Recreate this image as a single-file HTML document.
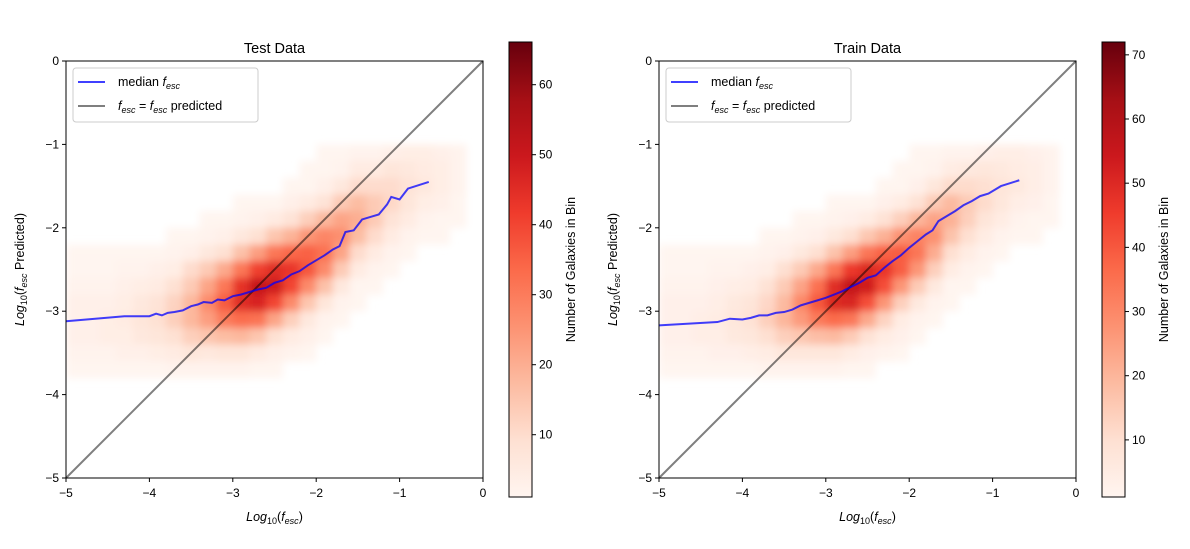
<!DOCTYPE html>
<html><head><meta charset="utf-8"><style>
body{margin:0;background:#fff;}
svg{display:block;font-family:"Liberation Sans","DejaVu Sans",sans-serif;}
</style></head><body>
<svg id="fig" width="1190" height="549" viewBox="0 0 1190 549" xmlns="http://www.w3.org/2000/svg">
<defs>
<linearGradient id="reds" x1="0" y1="1" x2="0" y2="0">
<stop offset="0" stop-color="#fff5f0"/><stop offset="0.125" stop-color="#fee0d2"/><stop offset="0.25" stop-color="#fcbba1"/><stop offset="0.375" stop-color="#fc9272"/><stop offset="0.5" stop-color="#fb6a4a"/><stop offset="0.625" stop-color="#ef3b2c"/><stop offset="0.75" stop-color="#cb181d"/><stop offset="0.875" stop-color="#a50f15"/><stop offset="1" stop-color="#67000d"/>
</linearGradient>
<filter id="soft" x="-5%" y="-5%" width="110%" height="110%"><feGaussianBlur stdDeviation="4"/></filter>
<clipPath id="clipL"><rect x="66" y="61" width="417" height="417"/></clipPath>
<clipPath id="clipR"><rect x="659" y="61" width="417" height="417"/></clipPath>
</defs>
</svg>
<script>
// bins: x edges -5..-0.2 step 0.2 (24 cols); y rows centers -1.1 (top) .. -3.7 (bottom)
const xBinStart = -5.0, binW = 0.2, yBinTop = -1.0;
const testCounts = [
[0,0,0,0,0,0,0,0,0,0,0,0,0,0,0,1,1,2,2,3,4,4,3,2],
[0,0,0,0,0,0,0,0,0,0,0,0,0,0,1,1,2,5,5,7,6,5,4,2],
[0,0,0,0,0,0,0,0,0,0,0,0,0,1,1,3,6,10,10,10,8,6,4,2],
[0,0,0,0,0,0,0,0,0,0,1,1,1,3,5,8,14,17,14,11,7,4,3,1],
[0,0,0,0,0,0,0,0,1,1,2,3,5,8,13,18,22,20,14,8,5,2,1,1],
[0,0,0,0,0,0,1,1,2,3,6,9,15,19,25,28,26,17,10,5,2,1,1,0],
[1,1,1,1,1,1,2,3,6,9,16,23,31,34,35,32,22,10,5,2,1,0,0,0],
[1,1,1,2,2,3,4,10,14,21,31,41,45,43,37,27,14,5,2,1,0,0,0,0],
[2,2,2,3,4,5,9,14,22,31,44,51,49,40,27,16,6,1,1,0,0,0,0,0],
[3,3,3,4,6,8,12,18,27,36,45,47,40,27,15,7,2,1,0,0,0,0,0,0],
[3,3,4,5,7,9,13,18,23,30,33,32,22,13,6,2,1,0,0,0,0,0,0,0],
[3,3,4,4,6,7,9,13,15,17,18,15,9,5,3,1,0,0,0,0,0,0,0,0],
[2,2,2,3,3,4,5,7,6,7,7,5,3,2,1,0,0,0,0,0,0,0,0,0],
[1,1,1,1,1,1,2,2,2,2,2,1,1,0,0,0,0,0,0,0,0,0,0,0]];
const trainCounts = [
[0,0,0,0,0,0,0,0,0,0,0,0,0,0,0,1,1,2,2,3,4,4,3,2],
[0,0,0,0,0,0,0,0,0,0,0,0,0,0,1,1,2,5,6,7,6,5,4,2],
[0,0,0,0,0,0,0,0,0,0,0,0,0,1,1,3,7,11,11,10,8,6,4,2],
[0,0,0,0,0,0,0,0,0,0,1,1,1,3,5,9,15,19,15,11,7,4,3,1],
[0,0,0,0,0,0,0,0,1,1,2,3,5,9,14,20,24,21,14,8,5,2,1,1],
[0,0,0,0,0,0,1,1,2,3,6,10,16,21,28,31,28,17,10,5,2,1,1,0],
[1,1,1,1,1,1,2,3,6,10,17,25,34,38,39,34,22,10,5,2,1,0,0,0],
[1,1,1,2,2,3,4,10,15,23,34,46,50,47,39,27,14,5,2,1,0,0,0,0],
[2,2,2,3,4,5,9,15,24,35,49,56,53,42,27,15,6,1,1,0,0,0,0,0],
[3,3,3,4,6,8,12,19,30,40,50,51,42,27,14,6,2,1,0,0,0,0,0,0],
[3,3,4,5,7,9,14,20,26,33,36,34,23,13,5,2,1,0,0,0,0,0,0,0],
[3,3,4,4,6,7,10,14,16,18,19,15,9,5,3,1,0,0,0,0,0,0,0,0],
[2,2,2,3,3,4,5,7,7,7,7,5,3,2,1,0,0,0,0,0,0,0,0,0],
[1,1,1,1,1,1,2,2,2,2,2,1,1,0,0,0,0,0,0,0,0,0,0,0]];
const testMedX = [-5,-4.3,-4.0,-3.92,-3.85,-3.78,-3.7,-3.6,-3.5,-3.42,-3.35,-3.25,-3.18,-3.1,-3.0,-2.9,-2.8,-2.7,-2.6,-2.5,-2.4,-2.3,-2.2,-2.1,-2.0,-1.9,-1.8,-1.72,-1.65,-1.55,-1.45,-1.35,-1.25,-1.15,-1.1,-1.0,-0.9,-0.65];
const testMedY = [-3.12,-3.06,-3.06,-3.03,-3.05,-3.02,-3.01,-2.99,-2.94,-2.92,-2.89,-2.9,-2.86,-2.87,-2.82,-2.8,-2.77,-2.74,-2.72,-2.66,-2.63,-2.56,-2.52,-2.45,-2.39,-2.33,-2.26,-2.22,-2.05,-2.03,-1.9,-1.87,-1.84,-1.72,-1.63,-1.66,-1.53,-1.45];
const trainMedX = [-5,-4.3,-4.15,-4.0,-3.9,-3.8,-3.7,-3.6,-3.5,-3.4,-3.3,-3.2,-3.1,-3.0,-2.9,-2.8,-2.7,-2.6,-2.5,-2.4,-2.3,-2.2,-2.1,-2.0,-1.9,-1.8,-1.72,-1.65,-1.55,-1.45,-1.35,-1.25,-1.15,-1.05,-0.9,-0.68];
const trainMedY = [-3.17,-3.13,-3.09,-3.1,-3.08,-3.05,-3.05,-3.02,-3.01,-2.98,-2.93,-2.9,-2.87,-2.84,-2.8,-2.76,-2.71,-2.66,-2.6,-2.57,-2.48,-2.4,-2.33,-2.24,-2.16,-2.08,-2.03,-1.92,-1.86,-1.8,-1.73,-1.68,-1.62,-1.59,-1.5,-1.43];
const axisTicks = [-5,-4,-3,-2,-1,0];
const testCbTicks = [10,20,30,40,50,60];
const trainCbTicks = [10,20,30,40,50,60,70];
const testRange = [1.1, 66.1];
const trainRange = [1.1, 72.0];

const NS = "http://www.w3.org/2000/svg";
const svg = document.getElementById('fig');
const stops = [[0,[255,245,240]],[0.125,[254,224,210]],[0.25,[252,187,161]],[0.375,[252,146,114]],[0.5,[251,106,74]],[0.625,[239,59,44]],[0.75,[203,24,29]],[0.875,[165,15,21]],[1,[103,0,13]]];
function reds(t){t=Math.max(0,Math.min(1,t));for(let i=1;i<stops.length;i++){if(t<=stops[i][0]){const a=stops[i-1],b=stops[i];const f=(t-a[0])/(b[0]-a[0]);return 'rgb('+a[1].map((v,k)=>Math.round(v+(b[1][k]-v)*f)).join(',')+')';}}return 'rgb(103,0,13)';}
function mk(tag,attrs,parent){const e=document.createElementNS(NS,tag);for(const k in attrs)e.setAttribute(k,attrs[k]);(parent||svg).appendChild(e);return e;}
function txt(s,attrs,parent){const e=mk('text',attrs,parent);e.innerHTML=s;return e;}

function panel(name,title,counts,medX,medY,range,cbTicks,ox,clip){
  const L=ox, R=ox+417, T=61, B=478;
  const g=mk('g',{});
  
  
  const sx=v=>L+(v+5)/5*(R-L), sy=v=>B-(v+5)/5*(B-T);
  const hc=mk('g',{'clip-path':'url(#'+clip+')'},g);
  const hg=mk('g',{filter:'url(#soft)'},hc);
  
  
  counts.forEach((row,ri)=>row.forEach((c,ci)=>{
    if(c<=0) return;
    const x0=xBinStart+ci*binW, y0=yBinTop-ri*binW;
    const r=mk('rect',{x:sx(x0),y:sy(y0),width:sx(x0+binW)-sx(x0)+0.3,height:sy(y0-binW)-sy(y0)+0.3,fill:reds((c-range[0])/(range[1]-range[0]))},hg);
    
    
  }));
  const diag=mk('line',{x1:sx(-5),y1:sy(-5),x2:sx(0),y2:sy(0),stroke:'#000','stroke-opacity':0.5,'stroke-width':2},g);
  
  
  const med=mk('polyline',{points:medX.map((x,i)=>sx(x)+','+sy(medY[i])).join(' '),fill:'none',stroke:'#0000ff','stroke-opacity':0.75,'stroke-width':2},g);
  
  
  const fr=mk('rect',{x:L,y:T,width:R-L,height:B-T,fill:'none',stroke:'#000','stroke-width':1},g);
  
  
  axisTicks.forEach(v=>{
    mk('line',{x1:sx(v),y1:B,x2:sx(v),y2:B+4,stroke:'#000'},g);
    const xl=txt('\u2212'.repeat(v<0?1:0)+Math.abs(v),{x:sx(v),y:B+19,'font-size':12,'text-anchor':'middle'},g);
    
    
    mk('line',{x1:L-4,y1:sy(v),x2:L,y2:sy(v),stroke:'#000'},g);
    const yl=txt('\u2212'.repeat(v<0?1:0)+Math.abs(v),{x:L-7,y:sy(v)+4,'font-size':12,'text-anchor':'end'},g);
    
    
  });
  const tt=txt(title,{x:(L+R)/2,y:53,'font-size':14.5,'text-anchor':'middle'},g);
  
  
  const xt=txt('<tspan font-style="italic">Log</tspan><tspan font-size="9" dy="3">10</tspan><tspan dy="-3">(</tspan><tspan font-style="italic">f</tspan><tspan font-style="italic" font-size="9" dy="3">esc</tspan><tspan dy="-3">)</tspan>',{x:(L+R)/2,y:521,'font-size':12.5,'text-anchor':'middle'},g);
  
  
  const yt=txt('<tspan font-style="italic">Log</tspan><tspan font-size="9" dy="3">10</tspan><tspan dy="-3">(</tspan><tspan font-style="italic">f</tspan><tspan font-style="italic" font-size="9" dy="3">esc</tspan><tspan dy="-3"> Predicted)</tspan>',{x:0,y:0,'font-size':12.5,'text-anchor':'middle',transform:'translate('+(L-42)+','+((T+B)/2)+') rotate(-90)'},g);
  
  
  const lg=mk('g',{},g);
  
  
  mk('rect',{x:L+7,y:68,width:185,height:54,rx:3,fill:'#fff','fill-opacity':0.8,stroke:'#ccc'},lg);
  mk('line',{x1:L+12,y1:82,x2:L+39,y2:82,stroke:'#0000ff','stroke-opacity':0.75,'stroke-width':2},lg);
  const e1=txt('median <tspan font-style="italic">f</tspan><tspan font-style="italic" font-size="9" dy="3">esc</tspan>',{x:L+52,y:86,'font-size':12.5},lg);
  
  
  mk('line',{x1:L+12,y1:106,x2:L+39,y2:106,stroke:'#000','stroke-opacity':0.5,'stroke-width':2},lg);
  const e2=txt('<tspan font-style="italic">f</tspan><tspan font-style="italic" font-size="9" dy="3">esc</tspan><tspan dy="-3"> = </tspan><tspan font-style="italic">f</tspan><tspan font-style="italic" font-size="9" dy="3">esc</tspan><tspan dy="-3"> predicted</tspan>',{x:L+52,y:110,'font-size':12.5},lg);
  
  
  const cx=ox+443, cT=42, cB=497;
  const cb=mk('rect',{x:cx,y:cT,width:23,height:cB-cT,fill:'url(#reds)',stroke:'#000','stroke-width':1},g);
  
  
  const cy=v=>cB-(v-range[0])/(range[1]-range[0])*(cB-cT);
  cbTicks.forEach(v=>{
    mk('line',{x1:cx+23,y1:cy(v),x2:cx+27,y2:cy(v),stroke:'#000'},g);
    const cl=txt(String(v),{x:cx+30,y:cy(v)+4,'font-size':12},g);
    
    
  });
  const ct=txt('Number of Galaxies in Bin',{x:0,y:0,'font-size':12.5,'text-anchor':'middle',transform:'translate('+(cx+66)+','+((cT+cB)/2)+') rotate(-90)'},g);
  
  
}
panel('test','Test Data',testCounts,testMedX,testMedY,testRange,testCbTicks,66,'clipL');
panel('train','Train Data',trainCounts,trainMedX,trainMedY,trainRange,trainCbTicks,659,'clipR');
</script>
</body></html>
